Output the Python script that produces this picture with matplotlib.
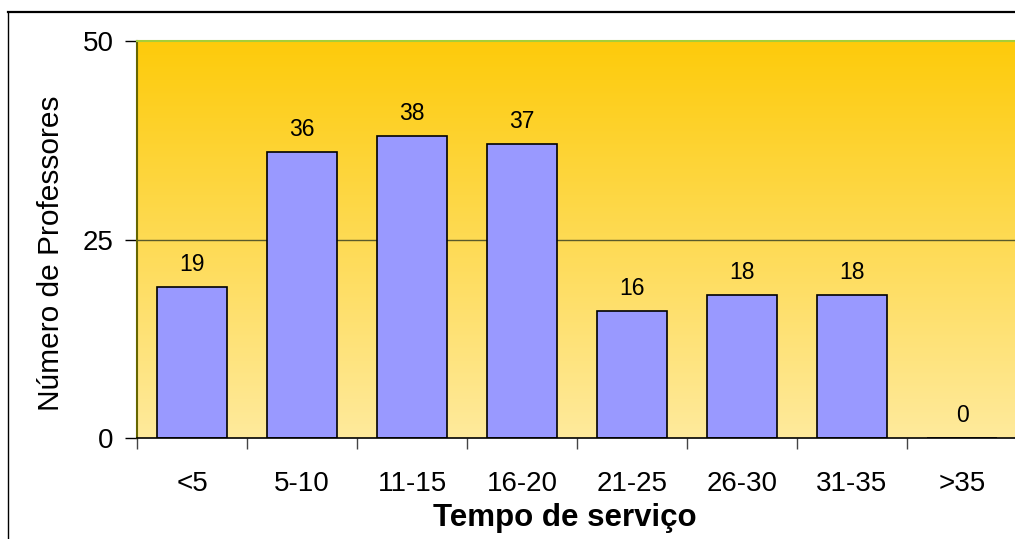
import numpy as np
import matplotlib
matplotlib.use("Agg")
import matplotlib.pyplot as plt
from matplotlib.lines import Line2D
from matplotlib.colors import LinearSegmentedColormap

plt.rcParams['font.family'] = ['Liberation Sans', 'DejaVu Sans']

# data
categorias = ["<5", "5-10", "11-15", "16-20", "21-25", "26-30", "31-35", ">35"]
professores = [19, 36, 38, 37, 16, 18, 18, 0]
y_ticks = [0, 25, 50]

fig = plt.figure(figsize=(10.15, 5.39), dpi=100)
fig.patch.set_facecolor("white")

# outer frame (cut at right/bottom like the original)
fig.add_artist(Line2D([8/1015, 8/1015], [0, 1 - 12/539], transform=fig.transFigure,
                      color="black", lw=1.0))
fig.add_artist(Line2D([8/1015, 1], [1 - 12/539, 1 - 12/539], transform=fig.transFigure,
                      color="black", lw=1.6))

ax = fig.add_axes([137/1015, 101/539, 880/1015, 397/539])

x = np.arange(len(categorias))
ax.set_xlim(-0.5, len(categorias) - 0.5)
ax.set_ylim(0, 50)

# gradient background
grad = LinearSegmentedColormap.from_list("bg", ["#FFEA9C", "#FDCB0B"])
ax.imshow(np.linspace(0, 1, 256).reshape(-1, 1), cmap=grad, aspect="auto",
          extent=[-0.5, len(categorias) - 0.5, 0, 50], origin="lower", zorder=0)

ax.axhline(25, color="#5a5a2a", lw=1.0, zorder=1)

bars = ax.bar(x, professores, width=0.64, color="#9999FF", edgecolor="black",
              linewidth=1.2, zorder=2)

for xi, v in zip(x, professores):
    ax.annotate(str(v), (xi, v), xytext=(0, 8), textcoords="offset points",
                ha="center", va="bottom", fontsize=16.5, zorder=3)

ax.spines["left"].set_color("#666600")
ax.spines["left"].set_linewidth(1.5)
ax.spines["top"].set_color("#A6CE39")
ax.spines["top"].set_linewidth(1.5)
ax.spines["bottom"].set_color("black")
ax.spines["bottom"].set_linewidth(1.2)
ax.spines["right"].set_visible(False)

ax.set_yticks(y_ticks)
ax.tick_params(axis="y", length=9, width=1, pad=8, labelsize=20, direction="out")

ax.set_xticks(x)
ax.set_xticklabels(categorias)
ax.set_xticks(np.arange(-0.5, len(categorias) - 0.4, 1), minor=True)
ax.tick_params(axis="x", which="major", length=0, pad=24, labelsize=20)
ax.tick_params(axis="x", which="minor", length=8, width=1, direction="out", color="#444444")

ax.set_xlabel("Tempo de serviço", fontsize=22.5, fontweight="bold")
ax.xaxis.set_label_coords(0.486, -0.163)
ax.set_ylabel("Número de Professores", fontsize=21.5)
ax.yaxis.set_label_coords(-0.082, 0.466)

fig.savefig("out.png", dpi=100)
